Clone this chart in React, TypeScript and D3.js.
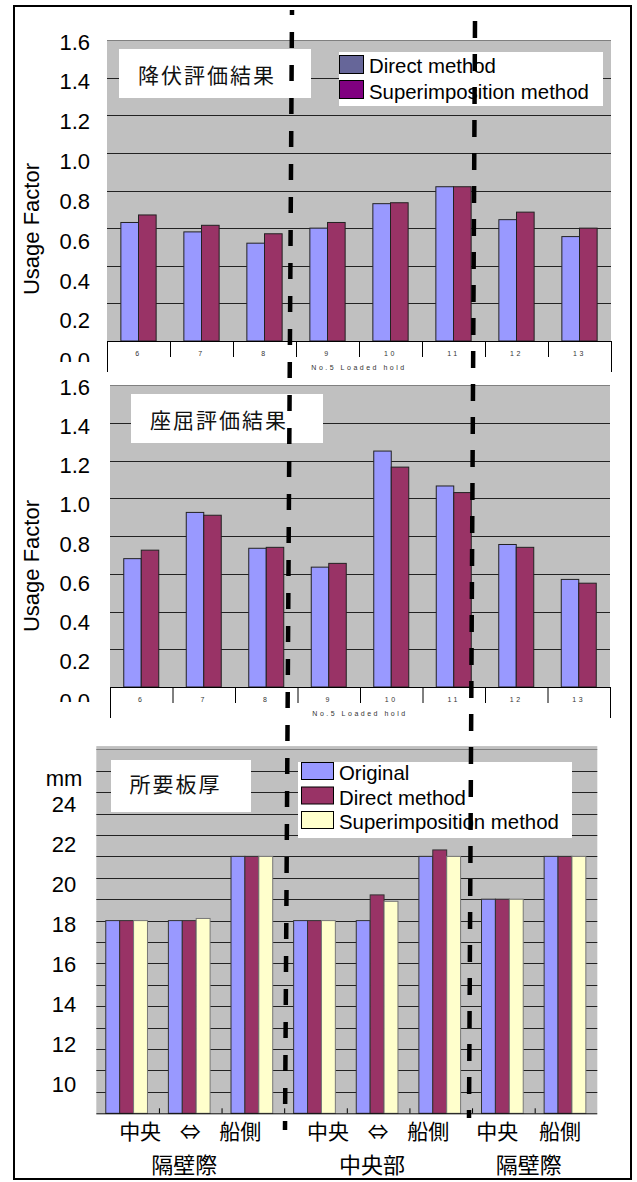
import React from 'react';
import * as d3 from 'd3';

// No.5 loaded hold cases
const holds = ['6', '7', '8', '9', '10', '11', '12', '13'];

// Yield check usage factors
const yieldDirect = [0.63, 0.58, 0.52, 0.6, 0.73, 0.82, 0.645, 0.555];
const yieldSuper = [0.67, 0.615, 0.57, 0.63, 0.735, 0.82, 0.685, 0.6];

// Buckling check usage factors
const buckDirect = [0.68, 0.925, 0.735, 0.635, 1.25, 1.065, 0.755, 0.57];
const buckSuper = [0.725, 0.91, 0.74, 0.655, 1.165, 1.03, 0.74, 0.55];

const usageTicks = [0, 0.2, 0.4, 0.6, 0.8, 1.0, 1.2, 1.4, 1.6];

// Required plate thickness [mm]
const positions = ['中央', '⇔', '船側', '中央', '⇔', '船側', '中央', '船側'];
const sectionNames = ['隔壁際', '中央部', '隔壁際'];
const sectionSizes = [3, 3, 2];
const thickOriginal = [18, 18, 21, 18, 18, 21, 19, 21];
const thickDirect = [18, 18, 21, 18, 19.2, 21.3, 19, 21];
const thickSuper = [18, 18.1, 21, 18, 18.9, 21, 19, 21];
const mmTicks = [10, 12, 14, 16, 18, 20, 22, 24];
const mmGrid = d3.range(10, 27);

const LAT = "'Liberation Sans', Arial, sans-serif";
const CJK = "'Noto Sans CJK JP', 'Noto Sans CJK SC', sans-serif";
const BLUE = '#9999FF';
const WINE = '#993366';
const CREAM = '#FFFFCC';
const PLOT = '#C0C0C0';

type UsageCfg = {
  id: string;
  left: number;
  right: number;
  top: number;
  zero: number;
  labelTop: number;
  labelZero: number;
  labelClip: number;
  axisBottom: number;
  title: string;
  titleBox: [number, number, number, number];
  ylabelY: number;
  a: number[];
  b: number[];
  legend: boolean;
};

function UsageChart({ c }: { c: UsageCfg }) {
  const x = d3.scaleBand<string>().domain(holds).range([c.left, c.right]).padding(0);
  const y = d3.scaleLinear().domain([0, 1.6]).range([c.zero, c.top]);
  const yl = d3.scaleLinear().domain([0, 1.6]).range([c.labelZero, c.labelTop]);
  const bw = x.step() * 0.28;
  const inner = d3.scaleBand<string>().domain(['a', 'b']).range([-bw, bw]).padding(0);
  const fmt = d3.format('.1f');
  const [tx0, ty0, tx1, ty1] = c.titleBox;
  const ends = [...holds.map((h) => x(h)!), c.right];
  return (
    <g>
      <defs>
        <clipPath id={c.id}>
          <rect x={0} y={c.top - 30} width={100} height={c.labelClip - (c.top - 30)} />
        </clipPath>
      </defs>
      <rect x={c.left} y={c.top} width={c.right - c.left} height={c.zero - c.top} fill={PLOT} />
      {usageTicks.slice(1).map((t) => (
        <line
          key={t}
          x1={c.left}
          x2={c.right}
          y1={Math.round(y(t)) + 0.5}
          y2={Math.round(y(t)) + 0.5}
          stroke={t === 1.6 ? '#808080' : '#222'}
          strokeWidth={1}
        />
      ))}
      {holds.map((h, i) => {
        const cx = x(h)! + x.bandwidth() / 2;
        return (
          <g key={h}>
            <rect x={cx + inner('a')!} y={y(c.a[i])} width={inner.bandwidth()} height={c.zero - y(c.a[i])}
              fill={BLUE} stroke="#222" strokeWidth={1} />
            <rect x={cx + inner('b')!} y={y(c.b[i])} width={inner.bandwidth()} height={c.zero - y(c.b[i])}
              fill={WINE} stroke="#222" strokeWidth={1} />
          </g>
        );
      })}
      {/* category axis */}
      <line x1={c.left} x2={c.right} y1={c.zero + 0.5} y2={c.zero + 0.5} stroke="#000" />
      {ends.map((v, i) => (
        <line key={i} x1={v + 0.5} x2={v + 0.5} y1={c.zero}
          y2={i === 0 || i === ends.length - 1 ? c.axisBottom : c.zero + 16} stroke="#000" />
      ))}
      {holds.map((h) => (
        <text key={h} x={x(h)! + x.bandwidth() / 2} y={c.zero + 12} fontFamily={LAT} fontSize={7}
          letterSpacing={2.5} textAnchor="middle" dominantBaseline="central" fill="#333">
          {h}
        </text>
      ))}
      <text x={(c.left + c.right) / 2} y={c.zero + 26} fontFamily={LAT} fontSize={7} letterSpacing={2.5}
        textAnchor="middle" dominantBaseline="central" fill="#333">
        No.5 Loaded hold
      </text>
      {/* value axis labels */}
      <g clipPath={`url(#${c.id})`}>
        {usageTicks.map((t) => (
          <text key={t} x={90} y={yl(t)} fontFamily={LAT} fontSize={22} textAnchor="end"
            dominantBaseline="central" fill="#000">
            {fmt(t)}
          </text>
        ))}
      </g>
      <text transform={`translate(31,${c.ylabelY}) rotate(-90)`} fontFamily={LAT} fontSize={22}
        textAnchor="middle" dominantBaseline="central" fill="#000">
        Usage Factor
      </text>
      {/* title */}
      <rect x={tx0} y={ty0} width={tx1 - tx0} height={ty1 - ty0} fill="#fff" />
      <text x={tx0 + 19} y={(ty0 + ty1) / 2} fontFamily={CJK} fontSize={21} letterSpacing={2}
        dominantBaseline="central" fill="#111">
        {c.title}
      </text>
      {c.legend && (
        <g>
          <rect x={339} y={52} width={264} height={54} fill="#fff" />
          <rect x={339.5} y={55.5} width={24} height={18} fill="#666699" stroke="#000" strokeWidth={1} />
          <rect x={339.5} y={80.5} width={24} height={18} fill="#800080" stroke="#000" strokeWidth={1} />
          <text x={369} y={73} fontFamily={LAT} fontSize={20.4} fill="#000">Direct method</text>
          <text x={369} y={99} fontFamily={LAT} fontSize={20.4} fill="#000">Superimposition method</text>
        </g>
      )}
    </g>
  );
}

function ThicknessChart() {
  const left = 96.3;
  const right = 597.3;
  const keys = positions.map((_, i) => String(i));
  const x = d3.scaleBand<string>().domain(keys).range([left, right]).padding(0);
  const y = d3.scaleLinear().domain([9, 26]).range([1113.3, 749.3]);
  const yl = d3.scaleLinear().domain([10, 24]).range([1084, 804]);
  const bw = x.step() * 0.222;
  const inner = d3.scaleBand<string>().domain(['o', 'd', 's']).range([-1.5 * bw, 1.5 * bw]).padding(0);
  const series = [
    { k: 'o', v: thickOriginal, fill: BLUE, stroke: '#333' },
    { k: 'd', v: thickDirect, fill: WINE, stroke: '#333' },
    { k: 's', v: thickSuper, fill: CREAM, stroke: '#777' },
  ];
  const base = y(9);
  // section spans for the two-row category labels
  let acc = 0;
  const sections = sectionNames.map((name, i) => {
    const start = acc;
    acc += sectionSizes[i];
    return { name, start, end: acc };
  });
  const sectionCenter = (s: { start: number; end: number }) =>
    (x(String(s.start))! + x(String(s.end - 1))! + x.bandwidth()) / 2;
  return (
    <g>
      <rect x={left} y={y(26.15)} width={right - left} height={base - y(26.15)} fill={PLOT} />
      {mmGrid.map((t) => (
        <line key={t} x1={left} x2={right} y1={Math.round(y(t)) + 0.5} y2={Math.round(y(t)) + 0.5}
          stroke={t === 26 ? '#808080' : '#222'} strokeWidth={1} />
      ))}
      {keys.map((k, i) => {
        const cx = x(k)! + x.bandwidth() / 2 - 1;
        return (
          <g key={k}>
            {series.map((s) => (
              <rect key={s.k} x={cx + inner(s.k)!} y={y(s.v[i])} width={inner.bandwidth()}
                height={base - y(s.v[i])} fill={s.fill} stroke={s.stroke} strokeWidth={1} />
            ))}
          </g>
        );
      })}
      <line x1={left} x2={right} y1={base + 0.5} y2={base + 0.5} stroke="#000" />
      {keys.slice(1).map((k) => (
        <line key={k} x1={x(k)! + 0.5} x2={x(k)! + 0.5} y1={base - 5} y2={base} stroke="#000" />
      ))}
      {mmTicks.map((t) => (
        <text key={t} x={64} y={yl(t)} fontFamily={LAT} fontSize={22} textAnchor="middle"
          dominantBaseline="central" fill="#000">
          {t}
        </text>
      ))}
      <text x={64} y={yl(25.3)} fontFamily={LAT} fontSize={22} textAnchor="middle"
        dominantBaseline="central" fill="#000">
        mm
      </text>
      {sections.map((s, si) => {
        const mid = sectionCenter(s);
        return (
          <g key={si}>
            {d3.range(s.start, s.end).map((i) => {
              const c = x(String(i))! + x.bandwidth() / 2;
              const lx = s.end - s.start === 3 ? c + (mid - c) * 0.2 : c - 6;
              return (
                <text key={i} x={lx} y={1130} fontFamily={CJK} fontSize={21} textAnchor="middle"
                  dominantBaseline="central" fill="#000">
                  {positions[i]}
                </text>
              );
            })}
            <text x={mid - 6} y={1163} fontFamily={CJK} fontSize={22} textAnchor="middle"
              dominantBaseline="central" fill="#000">
              {s.name}
            </text>
          </g>
        );
      })}
      {/* title */}
      <rect x={111} y={760} width={140} height={52} fill="#fff" />
      <text x={129.5} y={783} fontFamily={CJK} fontSize={21} letterSpacing={2}
        dominantBaseline="central" fill="#111">
        所要板厚
      </text>
      {/* legend */}
      <rect x={298} y={762} width={274} height={76} fill="#fff" />
      {series.map((s, i) => (
        <rect key={s.k} x={301.5} y={762.5 + i * 24.5} width={32} height={17} fill={s.fill}
          stroke="#000" strokeWidth={1} />
      ))}
      {['Original', 'Direct method', 'Superimposition method'].map((t, i) => (
        <text key={t} x={339} y={780 + i * 24.5} fontFamily={LAT} fontSize={20.4} fill="#000">
          {t}
        </text>
      ))}
    </g>
  );
}

const yieldCfg: UsageCfg = {
  id: 'clipYield',
  left: 107,
  right: 611,
  top: 40,
  zero: 341,
  labelTop: 42,
  labelZero: 360.8,
  labelClip: 362,
  axisBottom: 372,
  title: '降伏評価結果',
  titleBox: [119, 49, 311, 98],
  ylabelY: 229,
  a: yieldDirect,
  b: yieldSuper,
  legend: true,
};

const buckCfg: UsageCfg = {
  id: 'clipBuck',
  left: 110,
  right: 610,
  top: 385,
  zero: 687,
  labelTop: 387,
  labelZero: 701,
  labelClip: 702,
  axisBottom: 718,
  title: '座屈評価結果',
  titleBox: [131, 394, 323, 443],
  ylabelY: 566,
  a: buckDirect,
  b: buckSuper,
  legend: false,
};

export default function App() {
  return (
    <svg width={637} height={1182} style={{ position: 'absolute', left: 0, top: 0, background: '#fff' }}>
      <rect x={0} y={0} width={637} height={1182} fill="#fff" />
      <UsageChart c={yieldCfg} />
      <UsageChart c={buckCfg} />
      <ThicknessChart />
      {/* section dividers */}
      <line x1={292} y1={10} x2={285} y2={1130} stroke="#000" strokeWidth={4.5}
        strokeDasharray="16 17" strokeDashoffset={11} />
      <line x1={475} y1={21} x2={469} y2={1118} stroke="#000" strokeWidth={4.5}
        strokeDasharray="17 16" />
      <rect x={14} y={6} width={617} height={1173} fill="none" stroke="#000" strokeWidth={2} />
    </svg>
  );
}
